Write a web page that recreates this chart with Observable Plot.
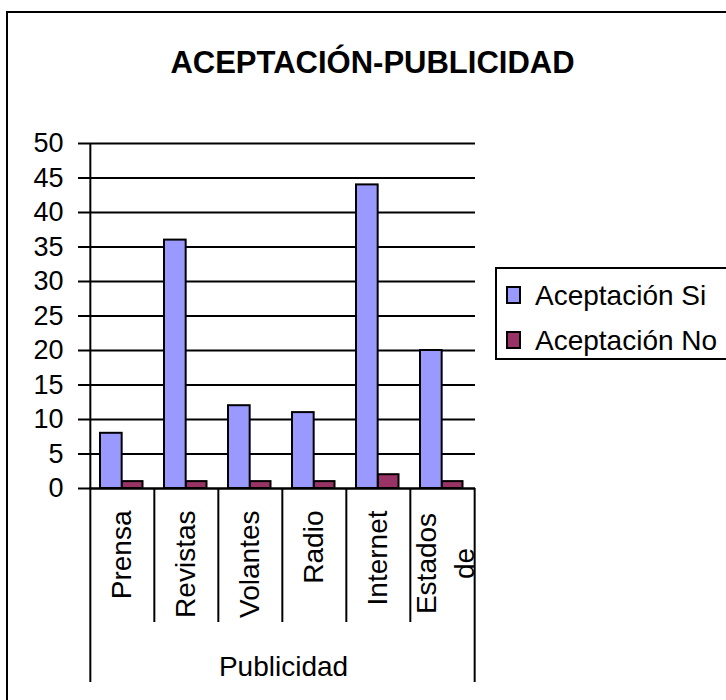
<!DOCTYPE html>
<html><head><meta charset="utf-8">
<script src="https://cdn.jsdelivr.net/npm/d3@7"></script>
<script src="https://cdn.jsdelivr.net/npm/@observablehq/plot@0.6"></script>
<style>
html,body{margin:0;padding:0;background:#fff;overflow:hidden;}
#wrap{position:relative;width:726px;height:700px;overflow:hidden;font-family:"Liberation Sans",Arial,sans-serif;color:#000;}
#wrap svg{position:absolute;left:0;top:0;}
.frame{position:absolute;left:6px;top:11px;width:900px;height:900px;border:2px solid #000;box-sizing:border-box;}
.title{position:absolute;left:0;top:46.5px;width:745px;text-align:center;font-weight:bold;font-size:31px;line-height:31px;white-space:nowrap;}
.legend{position:absolute;left:495px;top:267px;width:300px;height:93px;border:2px solid #000;box-sizing:border-box;}
.item{position:absolute;left:0;font-size:28px;line-height:28px;white-space:nowrap;}
.sw{position:absolute;width:15px;height:18px;border:2px solid #000;box-sizing:border-box;}
.lt{position:absolute;left:38px;top:0;}
</style></head><body><div id="wrap"></div>
<script>
const title = "ACEPTACIÓN-PUBLICIDAD";
const categories = ["Prensa", "Revistas", "Volantes", "Radio", "Internet", "Estados de"];
const categoryLabels = ["Prensa", "Revistas", "Volantes", "Radio", "Internet", "Estados\nde"];
const seriesNames = ["Aceptación Si", "Aceptación No"];
const valuesSi = [8, 36, 12, 11, 44, 20];
const valuesNo = [1, 1, 1, 1, 2, 1];
const yTicks = [0, 5, 10, 15, 20, 25, 30, 35, 40, 45, 50];
const xLabel = "Publicidad";
const colors = ["#9999FF", "#993366"];

const W = 726, H = 700, mL = 89, mR = 251, mT = 143, mB = 212;
const bw = (W - mL - mR) / categories.length;
const rows = categories.map((c, i) => ({cat: c, label: categoryLabels[i], si: valuesSi[i], no: valuesNo[i]}));
const single = rows.filter(d => !d.label.includes("\n"));
const multi = rows.filter(d => d.label.includes("\n"));

const chart = Plot.plot({
  width: W, height: H,
  marginLeft: mL, marginRight: mR, marginTop: mT, marginBottom: mB,
  style: {fontFamily: "'Liberation Sans', Arial, sans-serif", fontSize: "28px", background: "transparent", color: "#000", overflow: "visible"},
  x: {type: "band", domain: categories, padding: 0, axis: null},
  y: {domain: [0, 50]},
  marks: [
    Plot.ruleY(yTicks, {stroke: "#000", strokeWidth: 2}),
    Plot.barY(rows, {x: "cat", y: "si", fill: colors[0], stroke: "#000", strokeWidth: 2, insetLeft: 10, insetRight: bw - 32}),
    Plot.barY(rows, {x: "cat", y: "no", fill: colors[1], stroke: "#000", strokeWidth: 2, insetLeft: 32, insetRight: 11.5}),
    Plot.ruleY([0], {stroke: "#000", strokeWidth: 2}),
    Plot.axisY(yTicks, {tickSize: 11, tickPadding: 15, fontSize: 27, label: null, stroke: "#000", strokeWidth: 2, fill: "#000"}),
    Plot.ruleX([categories[0]], {dx: -bw / 2, insetBottom: -194, stroke: "#000", strokeWidth: 2}),
    Plot.ruleX([categories[categories.length - 1]], {dx: bw / 2, y1: () => 0, y2: () => 0, insetBottom: -194, stroke: "#000", strokeWidth: 2}),
    Plot.ruleX(categories.slice(1), {dx: -bw / 2, y1: () => 0, y2: () => 0, insetBottom: -134, stroke: "#000", strokeWidth: 2}),
    Plot.text(single, {x: "cat", y: () => 0, text: "label", rotate: -90, textAnchor: "end", lineAnchor: "middle", dy: 22, fontSize: 28, fill: "#000"}),
    Plot.text(multi, {x: "cat", y: () => 0, text: "label", rotate: -90, textAnchor: "middle", lineAnchor: "middle", lineHeight: 38 / 28, dy: 75, fontSize: 28, fill: "#000"}),
    Plot.text([xLabel], {frameAnchor: "bottom", text: d => d, lineAnchor: "bottom", dy: 187, dx: 1, fontSize: 28, fill: "#000"})
  ]
});

const wrap = document.getElementById("wrap");
wrap.appendChild(chart);

const frame = document.createElement("div");
frame.className = "frame";
wrap.appendChild(frame);

const t = document.createElement("div");
t.className = "title";
t.textContent = title;
wrap.appendChild(t);

const lg = document.createElement("div");
lg.className = "legend";
seriesNames.forEach((name, i) => {
  const it = document.createElement("div");
  it.className = "item";
  it.style.top = (12.5 + i * 45) + "px";
  const sw = document.createElement("div");
  sw.className = "sw";
  sw.style.left = "9px";
  sw.style.top = "4px";
  sw.style.background = colors[i];
  const tx = document.createElement("span");
  tx.className = "lt";
  tx.textContent = name;
  it.appendChild(sw);
  it.appendChild(tx);
  lg.appendChild(it);
});
wrap.appendChild(lg);
</script>
</body></html>
